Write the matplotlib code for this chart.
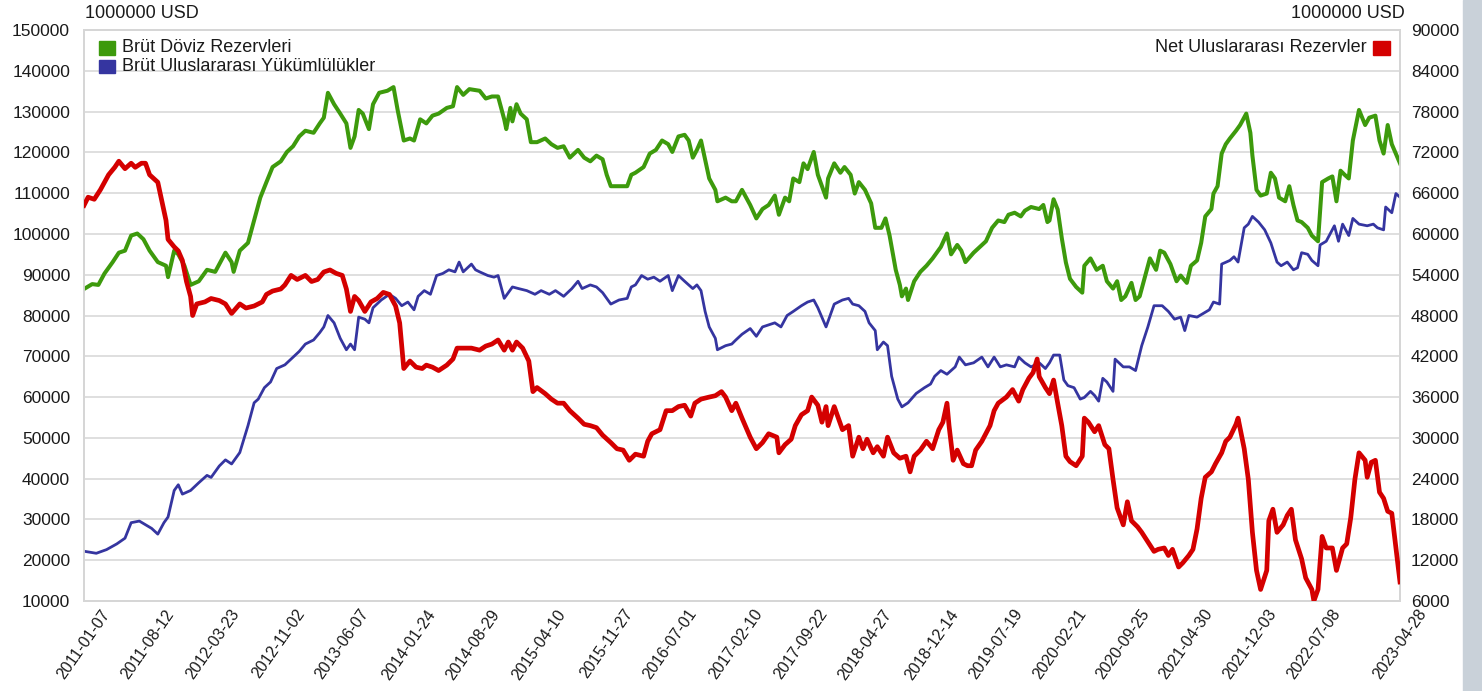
import matplotlib
matplotlib.use('Agg')
import matplotlib.pyplot as plt
import matplotlib.transforms as mtransforms
import numpy as np
import pandas as pd

plt.rcParams['font.family'] = ['Liberation Sans', 'DejaVu Sans']

# weeks counted from 2011-01-07 (weekly data), values in million USD
start_date = '2011-01-07'
end_date = '2023-04-28'

# Brüt Döviz Rezervleri (left axis)
green_wk = [0, 4, 7, 10, 14, 17, 20, 23, 26, 29, 32, 36, 40, 41, 44, 46, 49, 52, 56, 60,
            64, 67, 69, 72, 73, 76, 80, 83, 86, 89, 92, 96, 99, 102, 105, 108, 112, 115, 117, 119,
            122, 125, 128, 130, 132, 134, 136, 139, 141, 144, 148, 151, 153, 156, 159, 161, 164, 167, 170, 173,
            177, 180, 182, 185, 188, 193, 196, 199, 202, 205, 206, 208, 209, 211, 213, 216, 218, 221, 225, 228,
            231, 234, 237, 241, 244, 247, 250, 253, 255, 257, 261, 265, 267, 269, 273, 276, 279, 282, 285, 287,
            290, 293, 295, 297, 299, 301, 303, 305, 308, 309, 313, 316, 318, 321, 325, 328, 331, 334, 337, 339,
            342, 344, 346, 349, 351, 353, 356, 358, 362, 363, 366, 369, 371, 374, 376, 378, 381, 384, 386, 389,
            391, 393, 396, 398, 399, 401, 402, 405, 408, 411, 414, 418, 421, 423, 426, 428, 430, 434, 437, 440,
            443, 446, 449, 451, 454, 457, 459, 462, 466, 468, 470, 471, 473, 475, 477, 479, 481, 484, 487, 488,
            491, 494, 497, 499, 502, 504, 506, 508, 511, 513, 515, 518, 520, 523, 525, 527, 530, 533, 535, 538,
            540, 543, 545, 547, 550, 551, 553, 555, 557, 559, 562, 564, 567, 569, 570, 572, 574, 577, 579, 581,
            583, 586, 588, 590, 592, 594, 597, 599, 602, 604, 607, 609, 611, 613, 615, 617, 619, 622, 625, 627,
            630, 632, 634, 636, 638, 642]
green_val = [86500, 87700, 87500, 90300, 93100, 95400, 95900, 99600, 100100, 98700, 95900, 93100, 92200, 89400, 95900, 95000, 92200, 87500, 88400, 91200,
             90700, 93500, 95400, 93100, 90700, 95900, 97800, 103300, 108900, 112700, 116400, 117800, 120100, 121500, 123900, 125300, 124800, 127100, 128500, 134600,
             131800, 129500, 127100, 121100, 123900, 130400, 129500, 125700, 131800, 134600, 135100, 136000, 130400, 122900, 123400, 122900, 128100, 127100, 129000, 129500,
             130900, 131300, 136000, 134100, 135500, 135100, 133200, 133700, 133700, 128100, 125700, 130900, 127600, 131800, 129500, 128100, 122500, 122500, 123400, 122000,
             121100, 121500, 118700, 120600, 118700, 117800, 119200, 118300, 114500, 111700, 111700, 111700, 114500, 115000, 116400, 119700, 120600, 122900, 122000, 120100,
             123900, 124300, 122900, 118700, 120600, 122900, 118300, 113600, 110800, 108000, 108900, 108000, 108000, 110800, 107100, 103800, 106100, 107100, 109400, 104700,
             108900, 108000, 113600, 112700, 117300, 115900, 120100, 114500, 108900, 113600, 117300, 115000, 116400, 114500, 109900, 112700, 110800, 107500, 101500, 101500,
             103800, 99600, 91200, 87500, 84700, 86600, 83800, 88400, 90700, 92200, 94000, 96800, 100100, 95000, 97300, 95900, 93100, 95400, 96800, 98200,
             101500, 103300, 102900, 104700, 105200, 104300, 105700, 106600, 106100, 107100, 102900, 103300, 108500, 106000, 99000, 93000, 89000, 87000, 85600, 92200,
             94000, 91200, 92200, 88400, 86600, 88400, 83800, 84700, 88000, 83800, 84700, 90300, 94000, 91200, 95900, 95400, 92600, 88400, 89800, 88000,
             92200, 93500, 97800, 104300, 106100, 109900, 111700, 119700, 122000, 123400, 125300, 126700, 129500, 124800, 119200, 110800, 109400, 109900, 115000, 113600,
             108900, 108000, 111700, 107100, 103300, 102900, 101500, 99600, 98200, 112700, 113600, 114100, 108000, 115500, 114500, 113600, 122900, 130400, 126700, 128500,
             129000, 122900, 119700, 126700, 122000, 117300]

# Brüt Uluslararası Yükümlülükler (left axis)
blue_wk = [0, 6, 11, 16, 20, 23, 27, 30, 33, 36, 39, 41, 44, 46, 48, 52, 56, 60, 62, 66,
           69, 72, 76, 78, 80, 83, 85, 88, 91, 94, 98, 102, 105, 108, 112, 115, 117, 119, 122, 125,
           128, 130, 132, 134, 137, 139, 141, 145, 149, 152, 155, 158, 161, 163, 166, 169, 172, 175, 178, 181,
           183, 185, 189, 191, 193, 197, 200, 202, 205, 209, 212, 216, 220, 223, 227, 230, 234, 238, 241, 243,
           247, 250, 253, 257, 261, 265, 267, 269, 272, 275, 278, 281, 285, 287, 290, 293, 297, 299, 301, 303,
           305, 308, 309, 313, 316, 318, 321, 325, 328, 331, 334, 337, 340, 343, 346, 350, 353, 356, 358, 362,
           364, 366, 370, 373, 375, 378, 381, 383, 386, 387, 390, 392, 394, 397, 399, 402, 406, 410, 413, 415,
           418, 421, 425, 427, 430, 434, 438, 441, 444, 447, 450, 454, 456, 459, 462, 466, 469, 471, 473, 476,
           478, 480, 483, 486, 488, 491, 493, 495, 497, 499, 502, 503, 507, 510, 513, 516, 519, 522, 526, 529,
           532, 535, 537, 539, 543, 546, 549, 551, 554, 555, 559, 561, 563, 566, 568, 570, 573, 576, 579, 582,
           584, 587, 590, 592, 594, 597, 599, 602, 603, 606, 608, 610, 612, 614, 617, 619, 622, 626, 629, 631,
           634, 635, 638, 640, 642]
blue_val = [22200, 21700, 22600, 24000, 25400, 29200, 29600, 28700, 27800, 26400, 29200, 30600, 37100, 38500, 36200, 37100, 39000, 40800, 40300, 43100,
            44600, 43600, 46400, 49700, 53000, 58600, 59500, 62300, 63700, 67000, 67900, 69800, 71200, 73000, 74000, 75800, 77200, 80000, 78200, 74400,
            71600, 73000, 71600, 79600, 79100, 78200, 81900, 83800, 85200, 84200, 82400, 83300, 81400, 84700, 86100, 85200, 89800, 90300, 91200, 90700,
            93100, 90700, 92600, 91200, 90700, 89800, 89400, 89800, 84200, 87000, 86600, 86100, 85200, 86100, 85200, 86100, 84700, 86600, 88400, 86600,
            87500, 87000, 85600, 82800, 83800, 84200, 87000, 87500, 89800, 88900, 89400, 88400, 89800, 86100, 89800, 88400, 86600, 87500, 86100, 81000,
            77200, 74400, 71600, 72600, 73000, 74000, 75400, 76800, 74900, 77200, 77700, 78200, 77200, 80000, 81000, 82400, 83300, 83800, 81900, 77200,
            80000, 82800, 83800, 84200, 82800, 82400, 81000, 78200, 76300, 71600, 73500, 72600, 65100, 59500, 57600, 58600, 60900, 62300, 63200, 65100,
            66500, 65600, 67400, 69800, 67900, 68400, 69800, 67400, 69800, 67400, 67900, 67400, 69800, 68400, 67400, 68400, 67000, 68400, 70300, 70300,
            64200, 62800, 62300, 59500, 59900, 61400, 60400, 59000, 64600, 63700, 61400, 69300, 67400, 67400, 66500, 72600, 77200, 82400, 82400, 81000,
            79100, 79600, 76300, 80000, 79600, 80500, 81400, 83300, 82800, 92600, 93500, 94400, 93100, 101500, 102400, 104300, 102900, 101000, 97800, 93100,
            92200, 93100, 91200, 91700, 95400, 95000, 93500, 92200, 97300, 98200, 100100, 102000, 98200, 102400, 99600, 103800, 102400, 102000, 102400, 101500,
            101000, 106600, 105200, 109900, 109000]

# Net Uluslararası Rezervler (right axis)
red_wk = [0, 2, 5, 8, 12, 15, 17, 20, 23, 25, 28, 30, 32, 36, 38, 40, 41, 44, 46, 48,
          50, 52, 53, 55, 59, 62, 66, 69, 72, 76, 79, 83, 87, 89, 92, 96, 98, 101, 104, 108,
          111, 114, 117, 120, 123, 126, 128, 130, 132, 134, 137, 140, 143, 146, 149, 152, 154, 156, 159, 162,
          165, 167, 170, 173, 177, 180, 182, 185, 189, 193, 196, 199, 202, 205, 207, 209, 211, 214, 217, 219,
          221, 225, 228, 231, 234, 237, 241, 244, 247, 250, 253, 257, 260, 263, 266, 269, 273, 275, 277, 281,
          284, 287, 290, 293, 296, 298, 301, 305, 308, 311, 313, 316, 318, 321, 325, 328, 331, 334, 338, 339,
          342, 345, 347, 350, 353, 355, 358, 360, 362, 363, 366, 368, 370, 373, 375, 378, 380, 382, 385, 387,
          390, 392, 395, 398, 401, 403, 405, 408, 411, 414, 417, 419, 421, 422, 424, 426, 429, 431, 433, 435,
          438, 442, 444, 446, 450, 453, 456, 458, 461, 463, 465, 466, 469, 471, 473, 475, 477, 479, 481, 484,
          487, 488, 490, 493, 495, 498, 500, 502, 504, 507, 509, 511, 514, 516, 519, 522, 524, 527, 529, 531,
          534, 536, 539, 541, 543, 545, 547, 550, 552, 555, 557, 559, 562, 563, 566, 568, 570, 572, 574, 577,
          578, 580, 582, 585, 587, 589, 591, 594, 596, 599, 600, 602, 604, 606, 609, 611, 614, 616, 618, 620,
          622, 625, 626, 628, 630, 632, 634, 636, 638, 642]
red_val = [64200, 65400, 65100, 66500, 68700, 69800, 70700, 69600, 70400, 69800, 70400, 70400, 68700, 67600, 64800, 62000, 59200, 58100, 57500, 56100,
           53000, 50800, 48000, 49700, 50000, 50500, 50200, 49700, 48300, 49700, 49100, 49400, 50000, 51100, 51600, 51900, 52500, 53900, 53300, 53900,
           53000, 53300, 54400, 54700, 54200, 53900, 51900, 48600, 50800, 50200, 48600, 50000, 50500, 51400, 51100, 49400, 46900, 40200, 41300, 40400,
           40200, 40700, 40400, 39900, 40700, 41600, 43200, 43200, 43200, 42900, 43500, 43800, 44400, 42900, 44100, 42900, 44100, 43200, 41300, 36800,
           37400, 36500, 35700, 35100, 35100, 34000, 32900, 32000, 31800, 31500, 30400, 29300, 28400, 28200, 26700, 27600, 27300, 29500, 30600, 31200,
           34000, 34000, 34600, 34800, 33200, 35100, 35700, 36000, 36200, 36800, 36000, 34000, 35100, 32900, 30100, 28400, 29300, 30600, 30100, 27800,
           29000, 29800, 31800, 33400, 34000, 36000, 34800, 32300, 34600, 31800, 34600, 32900, 31200, 31800, 27300, 30100, 28400, 29800, 27800, 28700,
           27300, 30100, 27800, 27000, 27300, 25000, 27300, 28200, 29500, 28400, 31200, 32300, 35100, 31800, 26700, 28200, 26200, 25900, 25900, 28200,
           29500, 31800, 34000, 35100, 36000, 37100, 35400, 37100, 38800, 39600, 41600, 39000, 37400, 36500, 38500, 35100, 31800, 27300, 26500, 25900,
           27300, 32900, 32300, 30900, 31800, 29000, 28400, 23900, 19700, 17200, 20600, 17800, 16900, 16100, 14700, 13300, 13600, 13800, 12700, 13600,
           11000, 11600, 12700, 13600, 16600, 21100, 24200, 25000, 26200, 27800, 29500, 30100, 32000, 32900, 28400, 23900, 16100, 10500, 7700, 10500,
           17800, 19500, 16100, 17200, 18600, 19500, 15000, 12200, 9400, 7700, 6000, 7700, 15500, 13800, 13800, 10500, 13800, 14400, 18300, 23900,
           27800, 26700, 24200, 26400, 26700, 22000, 21100, 19200, 18900, 8800]

tick_dates = ['2011-01-07', '2011-08-12', '2012-03-23', '2012-11-02', '2013-06-07', '2014-01-24',
              '2014-08-29', '2015-04-10', '2015-11-27', '2016-07-01', '2017-02-10', '2017-09-22',
              '2018-04-27', '2018-12-14', '2019-07-19', '2020-02-21', '2020-09-25', '2021-04-30',
              '2021-12-03', '2022-07-08', '2023-04-28']

names = ['Brüt Döviz Rezervleri', 'Brüt Uluslararası Yükümlülükler', 'Net Uluslararası Rezervler']
colors = ['#3d9a0c', '#3535a0', '#d40000']
txt_color = '#1a1a1a'


def to_dates(weeks):
    return pd.Timestamp(start_date) + pd.to_timedelta(np.array(weeks) * 7, unit='D')


W, H = 1482, 691
fig = plt.figure(figsize=(W / 100, H / 100), dpi=100)
fig.patch.set_facecolor('white')
# grey strip on the right edge of the screenshot
fig.patches.append(plt.Rectangle((1463 / W, 0), 1 - 1463 / W, 1, transform=fig.transFigure,
                                 color='#c9d1d9', zorder=0))

ax = fig.add_axes([84 / W, 1 - 601 / H, (1400 - 84) / W, (601 - 30) / H])
ax2 = ax.twinx()

ax.plot(to_dates(green_wk), green_val, color=colors[0], lw=2.9, solid_joinstyle='round', zorder=3)
ax.plot(to_dates(blue_wk), blue_val, color=colors[1], lw=2.0, solid_joinstyle='round', zorder=3)
ax2.plot(to_dates(red_wk), red_val, color=colors[2], lw=3.4, solid_joinstyle='round', zorder=3)

ax.set_xlim(pd.Timestamp(start_date), pd.Timestamp(end_date))
ax.set_ylim(10000, 150000)
ax2.set_ylim(6000, 90000)
ax.set_yticks(np.arange(10000, 150001, 10000))
ax2.set_yticks(np.arange(6000, 90001, 6000))
ax.set_xticks(pd.to_datetime(tick_dates))
ax.set_xticklabels([])

ax.grid(axis='y', color='#dcdcdc', lw=1.3)
ax.set_axisbelow(True)
for a in (ax, ax2):
    for s in a.spines.values():
        s.set_color('#d6d6d6')
        s.set_linewidth(1.3)
    a.tick_params(length=0, colors=txt_color)
ax.tick_params(axis='y', pad=10, labelsize=12.5)
ax2.tick_params(axis='y', pad=8, labelsize=12.5)

# rotated date labels, placed a bit right of and below their tick
offset = mtransforms.ScaledTranslation(23 / 100, -10 / 100, fig.dpi_scale_trans)
xtrans = mtransforms.blended_transform_factory(ax.transData, ax.transAxes) + offset
for d in tick_dates:
    ax.text(pd.Timestamp(d), 0, d, transform=xtrans, rotation=55, ha='right', va='center',
            rotation_mode='anchor', fontsize=11.5, color=txt_color, clip_on=False)

fig.text(85 / W, 1 - 13 / H, '1000000 USD', fontsize=13, color=txt_color, va='center', ha='left')
fig.text(1405 / W, 1 - 13 / H, '1000000 USD', fontsize=13, color=txt_color, va='center', ha='right')

# legends drawn by hand: coloured squares + labels
for i, (c, name) in enumerate(zip(colors[:2], names[:2])):
    yc = 48 + i * 18.5
    fig.patches.append(plt.Rectangle((99 / W, 1 - (yc + 6.5) / H), 16 / W, 13 / H,
                                     transform=fig.transFigure, color=c, zorder=5))
    fig.text(122 / W, 1 - yc / H, name, fontsize=13, color=txt_color, va='center', ha='left')
fig.patches.append(plt.Rectangle((1373 / W, 1 - 54.5 / H), 17 / W, 13 / H,
                                 transform=fig.transFigure, color=colors[2], zorder=5))
fig.text(1367 / W, 1 - 48 / H, names[2], fontsize=13, color=txt_color, va='center', ha='right')

fig.savefig('out.png', dpi=100)
